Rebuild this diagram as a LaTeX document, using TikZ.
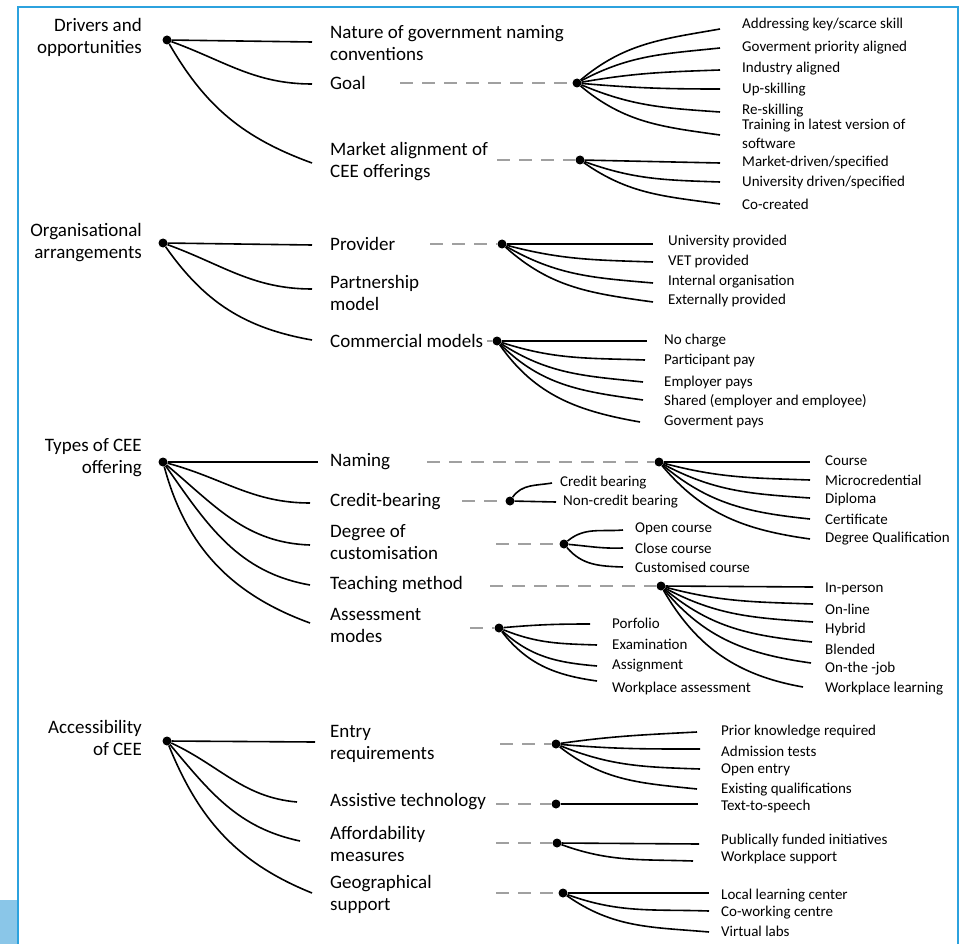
\documentclass[tikz,border=0pt]{standalone}
\usepackage{fontspec}
\setmainfont{Carlito}
\usepackage{tikz}
\definecolor{framebl}{RGB}{44,162,222}
\definecolor{blockbl}{RGB}{138,198,232}
\definecolor{dashgray}{RGB}{160,160,160}
\newcommand{\bigfont}{\fontsize{19}{22}\selectfont}
\newcommand{\smallfont}{\fontsize{15}{19}\selectfont}

\begin{document}
\begin{tikzpicture}[x=1pt, y=-1pt,
  dot/.style={circle, fill=black, inner sep=0pt, minimum size=9pt},
  head/.style={anchor=east, align=right, inner sep=0pt, font=\bigfont},
  branch/.style={anchor=west, align=left, inner sep=0pt, font=\bigfont},
  leaf/.style={anchor=west, align=left, inner sep=0pt, font=\smallfont},
  arm/.style={black, line width=1.6pt},
  link/.style={dashgray, line width=1.8pt, dash pattern=on 13pt off 9pt}]
  \useasboundingbox (0,0) rectangle (961,944);
  % frame
  \fill[blockbl] (0,900) rectangle (17,944);
  \draw[framebl, line width=2.4pt] (18,944) -- (18,7) -- (958,7) -- (958,944);

  % drivers and opportunities
  \node[head] (driT) at (142,37) {Drivers and\\opportunities};
  \node[dot] (dri) at (167,40) {};
  \node[branch] (nat) at (330,43) {Nature of government naming\\conventions};
  \node[branch] (goal) at (330,83) {Goal};
  \node[branch] (mkt) at (330,162) {Market alignment of\\CEE offerings};
  \coordinate (natE) at (312,42);
  \coordinate (goalE) at (312,84);
  \coordinate (mktE) at (312,163);
  \draw[arm] (dri) -- (natE);
  \draw[arm] (dri) to[out=-20, in=180] (goalE);
  \draw[arm] (dri) to[out=-60, in=160] (mktE);
  % goal
  \node[dot] (goalH) at (577,83) {};
  \coordinate (goalD) at (400,83);
  \draw[link] (goalD) -- (goalH);
  \coordinate (g1) at (720,29);
  \coordinate (g2) at (720,48);
  \coordinate (g3) at (720,70);
  \coordinate (g4) at (720,89);
  \coordinate (g5) at (720,112);
  \coordinate (g6) at (720,135);
  \node[leaf] (g1T) at (742,25) {Addressing key/scarce skill};
  \node[leaf] (g2T) at (742,48) {Goverment priority aligned};
  \node[leaf] (g3T) at (742,69) {Industry aligned};
  \node[leaf] (g4T) at (742,90) {Up-skilling};
  \node[leaf] (g5T) at (742,111) {Re-skilling};
  \node[leaf] (g6T) at (742,134) {Training in latest version of\\software};
  \draw[arm] (goalH) to[out=40, in=190] (g1);
  \draw[arm] (goalH) to[out=28, in=186] (g2);
  \draw[arm] (goalH) to[out=10, in=182] (g3);
  \draw[arm] (goalH) to[out=-5, in=180] (g4);
  \draw[arm] (goalH) to[out=-23, in=176] (g5);
  \draw[arm] (goalH) to[out=-40, in=172] (g6);
  % market alignment
  \node[dot] (mktH) at (580,160) {};
  \coordinate (mktD) at (497,160);
  \draw[link] (mktD) -- (mktH);
  \coordinate (m1) at (720,163);
  \coordinate (m2) at (720,182);
  \coordinate (m3) at (720,204);
  \node[leaf] (m1T) at (742,163) {Market-driven/specified};
  \node[leaf] (m2T) at (742,183) {University driven/specified};
  \node[leaf] (m3T) at (742,204) {Co-created};
  \draw[arm] (mktH) -- (m1);
  \draw[arm] (mktH) to[out=-20, in=178] (m2);
  \draw[arm] (mktH) to[out=-35, in=172] (m3);

  % organisational arrangements
  \node[head] (orgT) at (142,243) {Organisational\\arrangements};
  \node[dot] (org) at (163,243) {};
  \node[branch] (prov) at (330,244) {Provider};
  \node[branch] (part) at (330,293) {Partnership\\model};
  \node[branch] (comm) at (330,341) {Commercial models};
  \coordinate (provE) at (312,245);
  \coordinate (partE) at (312,289);
  \coordinate (commE) at (312,340);
  \draw[arm] (org) -- (provE);
  \draw[arm] (org) to[out=-20, in=180] (partE);
  \draw[arm] (org) to[out=-55, in=170] (commE);
  % provider
  \node[dot] (provH) at (502,244) {};
  \coordinate (provD) at (430,244);
  \draw[link] (provD) -- (provH);
  \coordinate (p1) at (653,244);
  \coordinate (p2) at (653,262);
  \coordinate (p3) at (653,283);
  \coordinate (p4) at (653,302);
  \node[leaf] (p1T) at (668,242) {University provided};
  \node[leaf] (p2T) at (668,262) {VET provided};
  \node[leaf] (p3T) at (668,282) {Internal organisation};
  \node[leaf] (p4T) at (668,301) {Externally provided};
  \draw[arm] (provH) -- (p1);
  \draw[arm] (provH) to[out=-15, in=178] (p2);
  \draw[arm] (provH) to[out=-30, in=175] (p3);
  \draw[arm] (provH) to[out=-42, in=172] (p4);
  % commercial models
  \node[dot] (commH) at (497,341) {};
  \coordinate (commD) at (487,341);
  \draw[link] (commD) -- (commH);
  \coordinate (c1) at (647,341);
  \coordinate (c2) at (645,360);
  \coordinate (c3) at (643,382);
  \coordinate (c4) at (643,400);
  \coordinate (c5) at (640,422);
  \node[leaf] (c1T) at (664,341) {No charge};
  \node[leaf] (c2T) at (664,361) {Participant pay};
  \node[leaf] (c3T) at (664,382) {Employer pays};
  \node[leaf] (c4T) at (664,401) {Shared (employer and employee)};
  \node[leaf] (c5T) at (664,422) {Goverment pays};
  \draw[arm] (commH) -- (c1);
  \draw[arm] (commH) to[out=-18, in=178] (c2);
  \draw[arm] (commH) to[out=-33, in=174] (c3);
  \draw[arm] (commH) to[out=-45, in=172] (c4);
  \draw[arm] (commH) to[out=-55, in=170] (c5);

  % types of CEE offering
  \node[head] (typT) at (142,458) {Types of CEE\\offering};
  \node[dot] (typ) at (163,462) {};
  \node[branch] (nam) at (330,462) {Naming};
  \node[branch] (cred) at (330,502) {Credit-bearing};
  \node[branch] (deg) at (330,542) {Degree of\\customisation};
  \node[branch] (teach) at (330,585) {Teaching method};
  \node[branch] (ass) at (330,625) {Assessment\\modes};
  \coordinate (namE) at (318,462);
  \coordinate (credE) at (310,503);
  \coordinate (degE) at (310,545);
  \coordinate (teachE) at (310,585);
  \coordinate (assE) at (310,623);
  \draw[arm] (typ) -- (namE);
  \draw[arm] (typ) to[out=-15, in=180] (credE);
  \draw[arm] (typ) to[out=-40, in=178] (degE);
  \draw[arm] (typ) to[out=-55, in=170] (teachE);
  \draw[arm] (typ) to[out=-75, in=160] (assE);
  % naming
  \node[dot] (namH) at (659,462) {};
  \coordinate (namD) at (427,462);
  \draw[link] (namD) -- (namH);
  \coordinate (n1) at (810,462);
  \coordinate (n2) at (810,480);
  \coordinate (n3) at (810,498);
  \coordinate (n4) at (810,519);
  \coordinate (n5) at (810,539);
  \node[leaf] (n1T) at (825,461) {Course};
  \node[leaf] (n2T) at (825,480) {Microcredential};
  \node[leaf] (n3T) at (825,499) {Diploma};
  \node[leaf] (n4T) at (825,519) {Certificate};
  \node[leaf] (n5T) at (825,539) {Degree Qualification};
  \draw[arm] (namH) -- (n1);
  \draw[arm] (namH) to[out=-15, in=178] (n2);
  \draw[arm] (namH) to[out=-28, in=176] (n3);
  \draw[arm] (namH) to[out=-40, in=174] (n4);
  \draw[arm] (namH) to[out=-50, in=172] (n5);
  % credit-bearing
  \node[dot] (credH) at (510,501) {};
  \coordinate (credD) at (462,501);
  \draw[link] (credD) -- (credH);
  \coordinate (r1) at (552,483);
  \coordinate (r2) at (556,502);
  \node[leaf] (r1T) at (560,483) {Credit bearing};
  \node[leaf] (r2T) at (563,502) {Non-credit bearing};
  \draw[arm] (credH) to[out=55, in=190] (r1);
  \draw[arm] (credH) -- (r2);
  % customisation
  \node[dot] (degH) at (564,544) {};
  \coordinate (degD) at (496,544);
  \draw[link] (degD) -- (degH);
  \coordinate (d1) at (623,530);
  \coordinate (d2) at (623,548);
  \coordinate (d3) at (623,567);
  \node[leaf] (d1T) at (635,529) {Open course};
  \node[leaf] (d2T) at (635,548) {Close course};
  \node[leaf] (d3T) at (635,567) {Customised course};
  \draw[arm] (degH) to[out=40, in=185] (d1);
  \draw[arm] (degH) to[out=-5, in=182] (d2);
  \draw[arm] (degH) to[out=-50, in=178] (d3);
  % teaching method
  \node[dot] (teachH) at (661,586) {};
  \coordinate (teachD) at (490,586);
  \draw[link] (teachD) -- (teachH);
  \coordinate (t1) at (813,587);
  \coordinate (t2) at (813,604);
  \coordinate (t3) at (813,622);
  \coordinate (t4) at (812,642);
  \coordinate (t5) at (811,663);
  \coordinate (t6) at (803,687);
  \node[leaf] (t1T) at (825,589) {In-person};
  \node[leaf] (t2T) at (825,609) {On-line};
  \node[leaf] (t3T) at (825,629) {Hybrid};
  \node[leaf] (t4T) at (825,649) {Blended};
  \node[leaf] (t5T) at (825,669) {On-the -job};
  \node[leaf] (t6T) at (825,689) {Workplace learning};
  \draw[arm] (teachH) -- (t1);
  \draw[arm] (teachH) to[out=-15, in=178] (t2);
  \draw[arm] (teachH) to[out=-28, in=176] (t3);
  \draw[arm] (teachH) to[out=-40, in=174] (t4);
  \draw[arm] (teachH) to[out=-50, in=172] (t5);
  \draw[arm] (teachH) to[out=-60, in=170] (t6);
  % assessment modes
  \node[dot] (assH) at (499,628) {};
  \coordinate (assD) at (470,628);
  \draw[link] (assD) -- (assH);
  \coordinate (a1) at (590,624);
  \coordinate (a2) at (597,645);
  \coordinate (a3) at (597,666);
  \coordinate (a4) at (597,681);
  \node[leaf] (a1T) at (612,623) {Porfolio};
  \node[leaf] (a2T) at (612,644) {Examination};
  \node[leaf] (a3T) at (612,666) {Assignment};
  \node[leaf] (a4T) at (612,688) {Workplace assessment};
  \draw[arm] (assH) to[out=5, in=180] (a1);
  \draw[arm] (assH) to[out=-22, in=178] (a2);
  \draw[arm] (assH) to[out=-42, in=175] (a3);
  \draw[arm] (assH) to[out=-52, in=172] (a4);

  % accessibility of CEE
  \node[head] (accT) at (142,738) {Accessibility\\of CEE};
  \node[dot] (acc) at (167,741) {};
  \node[branch] (ent) at (330,744) {Entry\\requirements};
  \node[branch] (assi) at (330,802) {Assistive technology};
  \node[branch] (aff) at (330,844) {Affordability\\measures};
  \node[branch] (geo) at (330,894) {Geographical\\support};
  \coordinate (entE) at (315,742);
  \coordinate (assiE) at (297,802);
  \coordinate (affE) at (300,841);
  \coordinate (geoE) at (312,893);
  \draw[arm] (acc) -- (entE);
  \draw[arm] (acc) to[out=-25, in=175] (assiE);
  \draw[arm] (acc) to[out=-50, in=168] (affE);
  \draw[arm] (acc) to[out=-68, in=158] (geoE);
  % entry requirements
  \node[dot] (entH) at (556,744) {};
  \coordinate (entD) at (500,744);
  \draw[link] (entD) -- (entH);
  \coordinate (e1) at (697,732);
  \coordinate (e2) at (700,749);
  \coordinate (e3) at (700,769);
  \coordinate (e4) at (697,789);
  \node[leaf] (e1T) at (721,732) {Prior knowledge required};
  \node[leaf] (e2T) at (721,751) {Admission tests};
  \node[leaf] (e3T) at (721,770) {Open entry};
  \node[leaf] (e4T) at (721,790) {Existing qualifications};
  \draw[arm] (entH) to[out=8, in=183] (e1);
  \draw[arm] (entH) to[out=-5, in=180] (e2);
  \draw[arm] (entH) to[out=-22, in=178] (e3);
  \draw[arm] (entH) to[out=-38, in=174] (e4);
  % assistive technology
  \node[dot] (assiH) at (556,804) {};
  \coordinate (assiD) at (496,804);
  \draw[link] (assiD) -- (assiH);
  \coordinate (s1) at (698,804);
  \node[leaf] (s1T) at (721,806) {Text-to-speech};
  \draw[arm] (assiH) -- (s1);
  % affordability measures
  \node[dot] (affH) at (557,843) {};
  \coordinate (affD) at (496,843);
  \draw[link] (affD) -- (affH);
  \coordinate (f1) at (699,844);
  \coordinate (f2) at (693,861);
  \node[leaf] (f1T) at (721,840) {Publically funded initiatives};
  \node[leaf] (f2T) at (721,857) {Workplace support};
  \draw[arm] (affH) -- (f1);
  \draw[arm] (affH) to[out=-20, in=178] (f2);
  % geographical support
  \node[dot] (geoH) at (563,893) {};
  \coordinate (geoD) at (496,893);
  \draw[link] (geoD) -- (geoH);
  \coordinate (o1) at (709,893);
  \coordinate (o2) at (709,911);
  \coordinate (o3) at (709,932);
  \node[leaf] (o1T) at (721,896) {Local learning center};
  \node[leaf] (o2T) at (721,913) {Co-working centre};
  \node[leaf] (o3T) at (721,931) {Virtual labs};
  \draw[arm] (geoH) -- (o1);
  \draw[arm] (geoH) to[out=-20, in=178] (o2);
  \draw[arm] (geoH) to[out=-35, in=175] (o3);
\end{tikzpicture}
\end{document}
